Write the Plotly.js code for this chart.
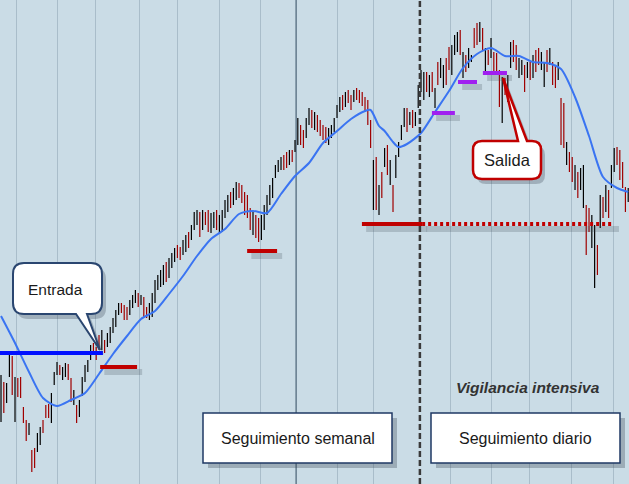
<!DOCTYPE html>
<html><head><meta charset="utf-8">
<script src="https://cdn.plot.ly/plotly-3.0.1.min.js"></script>
<style>html,body{margin:0;padding:0;background:#cadce6;}#chart{width:629px;height:484px;}</style>
</head><body><div id="chart"></div>
<script>
// ---- data: bar highs / lows (weekly bars 0..149, daily bars 150..224) ----
const barHigh = [
 109,102,101,129,128,107,106,107,77,64,
 61,34,36,51,57,64,79,80,91,112,
 122,119,117,121,120,106,94,79,84,107,
 119,124,139,141,137,149,154,144,151,157,
 166,174,181,181,179,177,184,189,194,191,
 189,187,177,181,191,204,209,214,219,222,
 226,231,236,239,237,244,249,252,259,272,
 274,272,274,272,274,271,272,274,269,274,
 284,289,292,296,302,301,299,292,289,276,
 272,269,266,269,279,289,299,306,319,324,
 327,329,332,334,334,344,366,359,354,366,
 376,374,372,369,364,359,357,356,359,366,
 379,387,389,392,394,389,394,396,394,392,
 387,384,364,324,327,299,312,336,339,324,
 299,329,342,359,376,376,372,374,372,399,
 414,412,412,409,412,396,422,426,419,426,
 437,439,449,452,454,432,429,436,429,456,
 461,462,456,436,434,446,432,431,414,407,
 406,409,442,444,439,426,424,419,422,422,
 429,434,436,432,422,434,436,422,419,422,
 386,381,342,332,327,319,312,316,319,279,
 276,269,259,239,289,287,299,294,319,336,
 337,334,322,297,296];
const barLow = [
 62,71,81,107,89,62,87,86,61,43,
 49,12,16,32,39,51,66,66,61,99,
 109,109,104,107,104,82,79,61,67,88,
 102,112,124,131,124,134,134,131,137,141,
 151,157,169,171,164,164,169,176,181,177,
 179,167,166,164,167,181,194,197,199,202,
 206,216,222,226,224,229,232,236,244,254,
 259,247,254,259,252,251,256,254,251,252,
 266,272,276,279,284,286,281,269,266,254,
 249,246,242,244,254,269,279,286,306,312,
 314,314,316,319,322,332,339,339,336,346,
 359,356,354,352,348,344,341,339,346,352,
 366,372,374,377,381,374,382,384,381,378,
 372,359,336,274,274,269,286,317,309,299,
 272,306,327,344,357,352,359,356,358,376,
 392,384,392,387,392,376,399,406,396,399,
 414,409,429,432,429,406,412,416,422,436,
 439,442,434,411,419,426,412,409,377,361,
 389,382,416,422,414,406,409,392,406,404,
 406,412,419,414,397,412,419,399,396,404,
 339,336,319,312,302,294,286,294,276,229,
 252,236,196,209,256,266,272,266,296,312,
 319,304,296,272,282];
// B = up bar (black), R = down bar (red)
const barDirection = [
 "BRBBRBRRRR","BRRBBRRRBB","BRBBRRBRBB","BBBRRRBRBB","BBBRRRBBBR",
 "BRRBBBBBBR","BBBRRBBRBB","BRBRRBBRBB","BBRBBRRRRR","BRRBBBBBBB",
 "BRRBRBBRRB","BRBRRRRBBB","BBRBRRBRRR","RRRBRBRBRB","RBBBBRBRBB",
 "BBRBRBRBBR","RBBBRBRBBR","RBRBRBRRRB","RBBRRBBRBR","BRRBBRBRRB",
 "RRBRRBRBBR","RBBRBRBRBB","RRRRB"].join('').split('');
// moving average
const maIndex = [0,5,10,15,20,25,30,35,40,45,50,55,60,65,70,75,80,85,90,95,100,105,110,115,120,125,130,132,135,137,140,142,145,150,155,160,165,170,175,180,185,190,195,200,205,210,215,220,224];
const maValue = [168,141,112,86,78,84,91,110,130,148,165,173,190,208,228,245,255,270,273,271,290,308,321,341,353,365,373,374,358,353,342,337,340,351,372,393,416,430,436,428,428,422,421,415,387,348,307,296,292];
// vertical grid positions (bar index units)
const gridTicks = [5.36,20,33.9,49.3,63.2,77.9,92.5,120,133.2,160.4,175,188.9,203.6,218.9];
const yearLine = 105.4;
const phaseSplit = 149.6;
// signal levels
const entryLevel = {x0:-0.4, x1:36.4, y:131};
const stopLevels = [{x0:35.4,x1:48.6,y:117},{x0:87.9,x1:98.6,y:233},{x0:128.9,x1:150.4,y:260}];
const stopProjection = {x0:150.4, x1:218.9, y:260};
const trailLevels = [{x0:153.9,x1:162.1,y:371},{x0:163.2,x1:170,y:402},{x0:172.1,x1:180.7,y:411}];

const W = 629, H = 484;
const BG = '#cadce6';

// ---- traces ----
const up = {x:[],y:[]}, dn = {x:[],y:[]};
barHigh.forEach((h,i)=>{
  const t = barDirection[i]==='B'?up:dn;
  t.x.push(i,i,null); t.y.push(barLow[i],h,null);
});
const traces = [
 {type:'scatter',mode:'lines',x:up.x,y:up.y,line:{color:'#000000',width:1.2},hoverinfo:'skip'},
 {type:'scatter',mode:'lines',x:dn.x,y:dn.y,line:{color:'#a00000',width:1.2},hoverinfo:'skip'},
 {type:'scatter',mode:'lines',x:maIndex,y:maValue,line:{color:'#3a74f2',width:2,shape:'spline',smoothing:0.7},hoverinfo:'skip'}
];

// ---- shapes ----
const shapes = [];
shapes.push({type:'line',xref:'x',yref:'paper',x0:yearLine,x1:yearLine,y0:0,y1:1,line:{color:'#62798b',width:1.5},layer:'below'});
shapes.push({type:'line',xref:'x',yref:'paper',x0:phaseSplit,x1:phaseSplit,y0:0,y1:1,line:{color:'#3a3a3a',width:2.5,dash:'6px,3px'}});
function hline(l,color,width,dash,shadow){
  if(shadow){
    shapes.push({type:'line',xref:'x',yref:'y',x0:l.x0+1.5,x1:l.x1+1.8,y0:l.y-5,y1:l.y-5,line:{color:'rgba(60,72,84,0.22)',width:6}});
  }
  shapes.push({type:'line',xref:'x',yref:'y',x0:l.x0,x1:l.x1,y0:l.y,y1:l.y,line:{color:color,width:width,dash:dash||'solid'}});
}
hline(entryLevel,'#0010ff',4,null,false);
stopLevels.forEach(l=>hline(l,'#c00000',4,null,true));
hline(stopProjection,'#c00000',4,'3px,3px',true);
trailLevels.forEach(l=>hline(l,'#a020f0',4,null,true));

// callouts (pixel geometry -> paper)
function pt(x,y){return (x/W).toFixed(5)+','+(1-y/H).toFixed(5);}
function calloutPath(b,dx,dy){
  dx=dx||0; dy=dy||0;
  const x0=b.x0+dx,y0=b.y0+dy,x1=b.x1+dx,y1=b.y1+dy,r=b.r,t=b.tail;
  let d='M'+pt(x0+r,y0);
  if(t.side==='top') d+=' L'+pt(t.a+dx,y0)+' L'+pt(t.tx+dx,t.ty+dy)+' L'+pt(t.b+dx,y0);
  d+=' L'+pt(x1-r,y0)+' Q'+pt(x1,y0)+' '+pt(x1,y0+r)+' L'+pt(x1,y1-r)+' Q'+pt(x1,y1)+' '+pt(x1-r,y1);
  if(t.side==='bottom') d+=' L'+pt(t.b+dx,y1)+' L'+pt(t.tx+dx,t.ty+dy)+' L'+pt(t.a+dx,y1);
  d+=' L'+pt(x0+r,y1)+' Q'+pt(x0,y1)+' '+pt(x0,y1-r)+' L'+pt(x0,y0+r)+' Q'+pt(x0,y0)+' '+pt(x0+r,y0)+' Z';
  return d;
}
const entrada = {x0:13,y0:263,x1:102,y1:314,r:11,tail:{side:'bottom',a:76,b:87,tx:100,ty:350}};
const salida = {x0:473,y0:141,x1:541,y1:179,r:9,tail:{side:'top',a:518,b:527,tx:503,ty:78}};
[[entrada,'#2a4670',2],[salida,'#c00000',2.5]].forEach(([b,c,w])=>{
  shapes.push({type:'path',xref:'paper',yref:'paper',path:calloutPath(b,4,5),fillcolor:'rgba(50,62,75,0.28)',line:{width:0}});
  shapes.push({type:'path',xref:'paper',yref:'paper',path:calloutPath(b),fillcolor:'#ffffff',line:{color:c,width:w}});
});
const boxes = [{x0:203,y0:413,x1:392,y1:463},{x0:431,y0:413,x1:620,y1:463}];
boxes.forEach(b=>{
  shapes.push({type:'rect',xref:'paper',yref:'paper',x0:(b.x0+5)/W,x1:(b.x1+5)/W,y0:1-(b.y1+5)/H,y1:1-(b.y0+5)/H,fillcolor:'rgba(50,62,75,0.3)',line:{width:0}});
  shapes.push({type:'rect',xref:'paper',yref:'paper',x0:b.x0/W,x1:b.x1/W,y0:1-b.y1/H,y1:1-b.y0/H,fillcolor:'#ffffff',line:{color:'#1f3864',width:1.5}});
});

// ---- annotations ----
const FONT = '"Liberation Sans", Arial, sans-serif';
function label(text,x,y,size,extra){
  return Object.assign({text:text,xref:'paper',yref:'paper',x:x/W,y:1-y/H,xanchor:'center',yanchor:'middle',showarrow:false,
    font:{family:FONT,size:size,color:'#1a1a1a'}},extra||{});
}
const annotations = [
  label('Entrada',56,289,15.5),
  label('Salida',507,160,16.5),
  label('Seguimiento semanal',297.5,438,16),
  label('Seguimiento diario',525.5,438,16),
  label('<b><i>Vigilancia intensiva</i></b>',528,387,15.5,{font:{family:FONT,size:15.5,color:'#333333'}})
];

const layout = {
  width:W,height:H,margin:{l:0,r:0,t:0,b:0,pad:0},
  paper_bgcolor:BG,plot_bgcolor:BG,showlegend:false,
  xaxis:{range:[-0.36,224.28],tickmode:'array',tickvals:gridTicks,showticklabels:false,ticks:'',
    showgrid:true,gridcolor:'#a9bdca',gridwidth:1,zeroline:false,showline:false,fixedrange:true},
  yaxis:{range:[0,484],showgrid:false,zeroline:false,showticklabels:false,ticks:'',showline:false,fixedrange:true},
  shapes:shapes,annotations:annotations
};
Plotly.newPlot('chart',traces,layout,{staticPlot:true,displayModeBar:false});
</script>
</body></html>
